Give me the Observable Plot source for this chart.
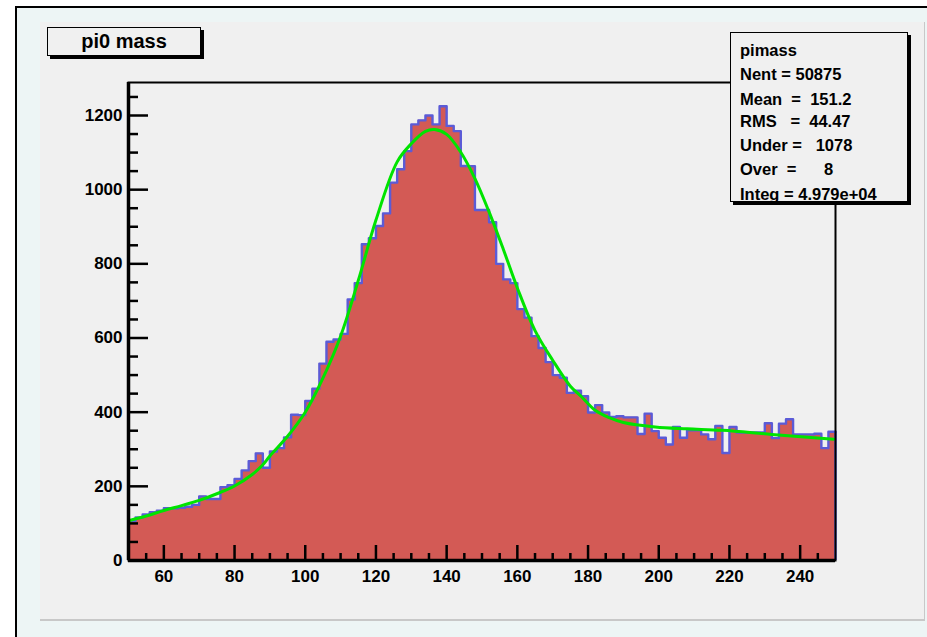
<!DOCTYPE html>
<html>
<head>
<meta charset="utf-8">
<script src="https://cdn.jsdelivr.net/npm/d3@7"></script>
<script src="https://cdn.jsdelivr.net/npm/@observablehq/plot@0.6"></script>
<style>
  html, body { margin: 0; padding: 0; background: #ffffff; }
  #wrap { position: relative; width: 927px; height: 637px; overflow: hidden; background: #ffffff; font-family: "Liberation Sans", Arial, sans-serif; }
  #outer { position: absolute; left: 15px; top: 6px; right: 0; bottom: 0; background: #edf5f5; border-left: 2px solid #000; border-top: 2px solid #000; }
  #pad { position: absolute; left: 40px; top: 22px; width: 884px; height: 597px; background: #f0f0f0; border-right: 1px solid #c8c8c8; border-bottom: 2px solid #c8c8c8; }
  #chart { position: absolute; left: 0; top: 0; }
  .box { position: absolute; background: #f0f0f0; border: 1.5px solid #000; box-shadow: 3px 3px 0 #000; font-weight: bold; color: #000; }
  #title { left: 47px; top: 27px; width: 152px; height: 27px; font-size: 20px; line-height: 27px; text-align: center; }
  #stats { left: 730px; top: 32px; width: 176px; height: 168px; font-size: 16.5px; }
  #stats div { position: absolute; left: 9px; white-space: pre; }
</style>
</head>
<body>
<div id="wrap">
  <div id="outer"></div>
  <div id="pad"></div>
  <div id="chart"></div>
  <div class="box" id="title">pi0 mass</div>
  <div class="box" id="stats"></div>
</div>
<script>
// Histogram "pimass": 100 bins of width 2 from 50 to 250
const binLow = d3.range(50, 250, 2);
const counts = [
  107, 116, 124, 130, 134, 141, 141, 142, 145, 150,
  173, 166, 166, 198, 203, 220, 243, 268, 289, 250,
  294, 303, 332, 393, 392, 430, 463, 531, 590, 596,
  611, 704, 748, 853, 869, 902, 936, 1019, 1055, 1104,
  1176, 1187, 1200, 1176, 1225, 1172, 1158, 1064, 1063, 945,
  945, 912, 800, 758, 748, 678, 655, 605, 573, 535,
  500, 493, 452, 458, 443, 399, 419, 399, 387, 389,
  386, 386, 341, 396, 349, 331, 313, 360, 331, 351,
  351, 340, 327, 363, 290, 360, 345, 345, 345, 345,
  370, 330, 369, 381, 340, 340, 340, 342, 303, 347
];
// Fit curve
const fitX = [50, 55, 60, 65, 70, 75, 80, 85, 88, 90, 95, 100, 105, 110, 115, 120, 126, 130, 134, 136.6, 140, 144, 148, 152, 156, 160, 165, 170, 175, 178, 182, 186, 190, 199, 208, 218, 232, 249.5];
const fitY = [107, 120, 135, 148, 162, 180, 201, 232, 258, 282, 335, 400, 492, 605, 755, 918, 1075, 1124, 1157, 1162, 1149, 1101, 1030, 940, 840, 735, 620, 540, 470, 443, 405, 385, 372, 360, 355, 351, 340, 327];
// Axis ticks
const xMajor = [60, 80, 100, 120, 140, 160, 180, 200, 220, 240];
const xMinor = d3.range(55, 250, 5);
const yMajor = [0, 200, 400, 600, 800, 1000, 1200];
const yMinor = d3.range(50, 1289, 50);
const xDomain = [50, 250];
const yDomain = [0, 1289];
// Stats box lines
const statsLines = ["pimass", "Nent = 50875", "Mean  =  151.2", "RMS   =  44.47", "Under =   1078", "Over  =      8", "Integ = 4.979e+04"];
const statsTop = [8, 32, 57, 79, 103, 127, 152];

const stepPts = binLow.map((lo, i) => ({x: lo, y: counts[i]})).concat([{x: 250, y: counts[counts.length - 1]}]);
const fit = fitX.map((x, i) => ({x, y: fitY[i]}));

const fillColor = "#d35a55";
const lineColor = "#5b5bd7";
const fmt = d => String(d);

const plot = Plot.plot({
  width: 927,
  height: 637,
  marginLeft: 128,
  marginRight: 92,
  marginTop: 82,
  marginBottom: 77,
  x: {domain: xDomain, label: null},
  y: {domain: yDomain, label: null},
  style: {background: "transparent", fontFamily: "'Liberation Sans', Arial, sans-serif", fontWeight: "bold", color: "#000"},
  marks: [
    Plot.areaY(stepPts, {x: "x", y: "y", curve: "step-after", fill: fillColor}),
    Plot.line(stepPts, {x: "x", y: "y", curve: "step-after", stroke: lineColor, strokeWidth: 2.4}),
    Plot.ruleX([250], {y1: 0, y2: counts[counts.length - 1], stroke: lineColor, strokeWidth: 2.5}),
    Plot.axisX(xMajor, {tickSize: -15, tickFormat: () => "", strokeWidth: 2.5, label: null}),
    Plot.axisX(xMinor.filter(v => v % 20 !== 0), {tickSize: -7, tickFormat: () => "", strokeWidth: 2.5, label: null}),
    Plot.axisX(xMajor, {tickSize: 0, tickPadding: 9, tickFormat: fmt, fontSize: 17, fontWeight: "bold", fill: "#000", label: null}),
    Plot.axisY(yMajor, {tickSize: -20, tickFormat: () => "", strokeWidth: 2.5, label: null}),
    Plot.axisY(yMinor.filter(v => v % 200 !== 0), {tickSize: -10, tickFormat: () => "", strokeWidth: 2.5, label: null}),
    Plot.axisY(yMajor, {tickSize: 0, tickPadding: 6, tickFormat: fmt, fontSize: 17, fontWeight: "bold", fill: "#000", label: null}),
    Plot.line(fit, {x: "x", y: "y", curve: "catmull-rom", stroke: "#00e400", strokeWidth: 3}),
    Plot.frame({stroke: "#000", strokeWidth: 2}),
    Plot.ruleX([xDomain[0]], {stroke: "#000", strokeWidth: 3.5}),
    Plot.ruleY([0], {stroke: "#000", strokeWidth: 3.5})
  ]
});
document.getElementById("chart").appendChild(plot);

const stats = document.getElementById("stats");
statsLines.forEach((t, i) => {
  const d = document.createElement("div");
  d.textContent = t;
  d.style.top = statsTop[i] + "px";
  stats.appendChild(d);
});
</script>
</body>
</html>
